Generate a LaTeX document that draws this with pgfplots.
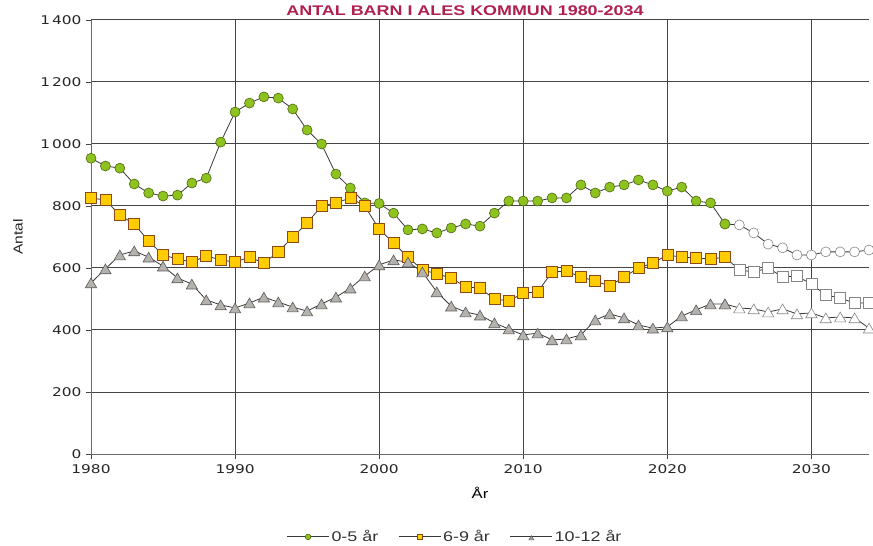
\documentclass[border=0pt]{standalone}
\usepackage{fontspec}
\usepackage{pgfplots}
\pgfplotsset{compat=1.18}
\usepackage{pgfplotstable}
\setmainfont{DejaVu Sans}[FakeStretch=1.28]
\newfontfamily\arialfont{Liberation Sans}[FakeStretch=1.28]
\newfontfamily\arialplain{Liberation Sans}
\newfontfamily\arialboldfont{Liberation Sans Bold}[FakeStretch=1.28]

\definecolor{lincol}{HTML}{383838}
\definecolor{gridcol}{HTML}{454545}
\definecolor{grfill}{HTML}{8DC21F}
\definecolor{gredge}{HTML}{4F6A10}
\definecolor{yefill}{HTML}{FFCC00}
\definecolor{yeedge}{HTML}{8A4A1A}
\definecolor{trfill}{HTML}{B5B2AE}
\definecolor{tredge}{HTML}{5A5A5A}
\definecolor{opedge}{HTML}{858585}
\definecolor{titlered}{HTML}{B0204E}

\pgfplotstableread{
x y
1980 954
1981 929
1982 922
1983 871
1984 842
1985 832
1986 835
1987 874
1988 890
1989 1006
1990 1103
1991 1132
1992 1152
1993 1148
1994 1113
1995 1045
1996 1000
1997 903
1998 858
1999 810
2000 808
2001 777
2002 723
2003 726
2004 713
2005 729
2006 742
2007 735
2008 777
2009 816
2010 816
2011 816
2012 826
2013 826
2014 868
2015 842
2016 861
2017 868
2018 884
2019 868
2020 848
2021 861
2022 816
2023 810
2024 742
}\greenhist
\pgfplotstableread{
x y
2024 742
2025 739
2026 713
2027 677
2028 665
2029 642
2030 642
2031 652
2032 652
2033 652
2034 658
}\greenproj
\pgfplotstableread{
x y
1980 826
1981 819
1982 771
1983 742
1984 687
1985 642
1986 629
1987 619
1988 639
1989 626
1990 619
1991 635
1992 616
1993 652
1994 700
1995 745
1996 800
1997 810
1998 826
1999 800
2000 725
2001 681
2002 635
2003 594
2004 581
2005 568
2006 539
2007 535
2008 500
2009 494
2010 519
2011 523
2012 587
2013 590
2014 571
2015 558
2016 542
2017 571
2018 600
2019 616
2020 642
2021 635
2022 632
2023 629
2024 635
}\yellowhist
\pgfplotstableread{
x y
2024 635
2025 594
2026 587
2027 600
2028 571
2029 574
2030 548
2031 513
2032 503
2033 487
2034 487
}\yellowproj
\pgfplotstableread{
x y
1980 552
1981 597
1982 642
1983 655
1984 635
1985 606
1986 568
1987 548
1988 497
1989 481
1990 471
1991 487
1992 506
1993 490
1994 474
1995 461
1996 484
1997 506
1998 535
1999 574
2000 610
2001 626
2002 619
2003 587
2004 523
2005 477
2006 458
2007 448
2008 423
2009 403
2010 384
2011 390
2012 368
2013 371
2014 384
2015 432
2016 452
2017 439
2018 416
2019 406
2020 410
2021 445
2022 465
2023 484
2024 484
}\trihist
\pgfplotstableread{
x y
2024 484
2025 471
2026 468
2027 458
2028 468
2029 452
2030 455
2031 439
2032 442
2033 439
2034 406
}\triproj

\begin{document}
\begin{tikzpicture}
\begin{axis}[
  scale only axis,
  width=778pt, height=434pt,
  xmin=1980, xmax=2034,
  ymin=0, ymax=1400,
  xtick={1980,1990,2000,2010,2020,2030},
  xticklabels={1980,1990,2000,2010,2020,2030},
  ytick={0,200,400,600,800,1000,1200,1400},
  yticklabels={0,200,400,600,800,1\,000,1\,200,1\,400},
  /pgf/number format/assume math mode=true,
  tick label style={font=\fontsize{12}{14}\selectfont, text=black!85},
  xticklabel style={yshift=-2pt},
  yticklabel style={xshift=-1pt},
  tick align=outside,
  major tick length=5pt,
  tick style={gridcol, line width=0.8pt},
  grid=major,
  major grid style={gridcol, line width=1pt},
  axis line style={gridcol!80, line width=0.9pt},
  axis x line*=bottom,
  axis y line*=left,
  clip=false,
  xlabel={År},
  xlabel style={font=\arialfont\fontsize{13}{15}\selectfont, at={(axis description cs:0.5,-0.09)}, anchor=center},
  legend columns=3,
  legend style={draw=none, fill=none, at={(axis description cs:0.468,-0.191)}, anchor=center,
    font=\arialfont\fontsize{14}{16}\selectfont, text=black!80,
    /tikz/every even column/.append style={column sep=18pt}},
  legend image code/.code={\draw[mark repeat=2,mark phase=2,#1,mark size=2.8pt] plot coordinates {(0pt,0pt)(21pt,0pt)(42pt,0pt)};},
]
% projections (open markers)
\addplot[forget plot, lincol, line width=0.8pt, mark=*, mark size=5pt, mark options={fill=white, draw=opedge, line width=0.6pt}] table[x=x,y=y] {\greenproj};
\addplot[forget plot, lincol, line width=0.8pt, mark=square*, mark size=5.5pt, mark options={fill=white, draw=opedge, line width=0.6pt}] table[x=x,y=y] {\yellowproj};
\addplot[forget plot, lincol, line width=0.8pt, mark=triangle*, mark size=6.5pt, mark options={fill=white, draw=opedge, line width=0.6pt, yshift=-1.6pt}] table[x=x,y=y] {\triproj};
% history
\addplot[lincol, line width=0.8pt, mark=*, mark size=5pt, mark options={fill=grfill, draw=gredge, line width=0.6pt}] table[x=x,y=y] {\greenhist};
\addlegendentry{0-5 år}
\addplot[lincol, line width=0.8pt, mark=square*, mark size=5.5pt, mark options={fill=yefill, draw=yeedge, line width=0.6pt}] table[x=x,y=y] {\yellowhist};
\addlegendentry{6-9 år}
\addplot[lincol, line width=0.8pt, mark=triangle*, mark size=6.5pt, mark options={fill=trfill, draw=tredge, line width=0.6pt, yshift=-1.6pt}] table[x=x,y=y] {\trihist};
\addlegendentry{10-12 år}
\end{axis}
\node[rotate=90, anchor=center, font=\arialplain\fontsize{13}{15}\selectfont, text=black!85, xscale=1.2] at ([xshift=-73pt]current axis.west) {Antal};
\node[anchor=base, text=titlered, font=\arialboldfont\fontsize{14}{16}\selectfont] at ([shift={(-15pt,4.5pt)}]current axis.north) {ANTAL BARN I ALES KOMMUN 1980-2034};
\pgfresetboundingbox
\path[use as bounding box] ([shift={(-91pt,-91pt)}]current axis.south west) rectangle ([shift={(4pt,20pt)}]current axis.north east);
\end{tikzpicture}
\end{document}
